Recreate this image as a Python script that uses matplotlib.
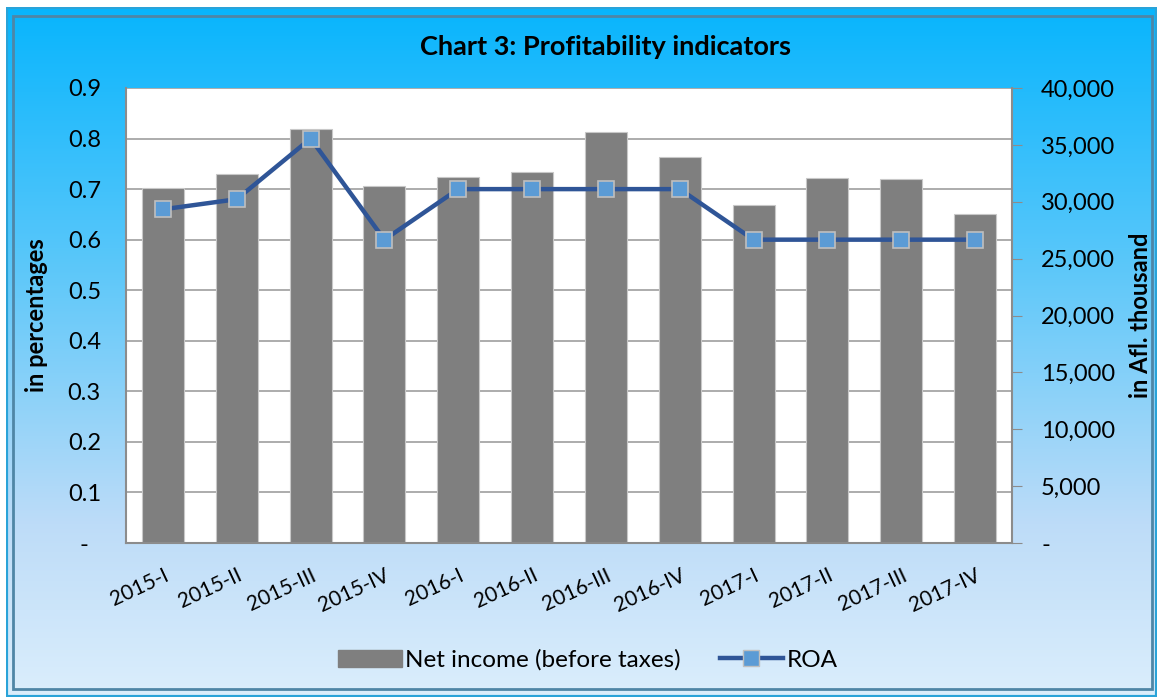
import numpy as np
import matplotlib
matplotlib.use("Agg")
import matplotlib.pyplot as plt
from matplotlib.colors import LinearSegmentedColormap
from matplotlib.patches import Rectangle, Patch
from matplotlib.lines import Line2D
from matplotlib.transforms import blended_transform_factory

quarters = ["2015-I", "2015-II", "2015-III", "2015-IV",
            "2016-I", "2016-II", "2016-III", "2016-IV",
            "2017-I", "2017-II", "2017-III", "2017-IV"]
net_income = [31200, 32400, 36400, 31400, 32200, 32600,
              36100, 33900, 29700, 32100, 32000, 28900]
roa = [0.66, 0.68, 0.80, 0.60, 0.70, 0.70,
       0.70, 0.70, 0.60, 0.60, 0.60, 0.60]
roa_ticks = [0, 0.1, 0.2, 0.3, 0.4, 0.5, 0.6, 0.7, 0.8, 0.9]
income_ticks = [0, 5000, 10000, 15000, 20000, 25000, 30000, 35000, 40000]

plt.rcParams['font.family'] = ['Lato', 'DejaVu Sans']

fig = plt.figure(figsize=(11.6, 7), dpi=100, facecolor='white')

# gradient background with frame
bg = fig.add_axes([6/1160, 3/700, 1151/1160, 690/700])
cmap = LinearSegmentedColormap.from_list(
    'bg', [(0, '#08b5fd'), (0.35, '#55c6fa'), (0.75, '#bddcf8'), (1, '#dbeefc')])
bg.imshow(np.linspace(0, 1, 256).reshape(-1, 1), aspect='auto', cmap=cmap,
          extent=[0, 1, 0, 1], origin='upper')
bg.set_xlim(0, 1)
bg.set_ylim(0, 1)
bg.axis('off')
bg.add_patch(Rectangle((0, 0), 1, 1, transform=bg.transAxes, fill=False,
                       edgecolor='#2aa3d8', lw=3))
bg.add_patch(Rectangle((0.006, 0.012), 0.99, 0.975, transform=bg.transAxes,
                       fill=False, edgecolor='#4f86a6', lw=2))

ax_bar = fig.add_axes([126/1160, 157/700, 886/1160, 455/700])
ax_bar.set_facecolor('white')
ax_line = ax_bar.twinx()

x = np.arange(len(quarters))

# horizontal gridlines follow the left (ROA) scale, behind the bars
grid_tr = blended_transform_factory(ax_bar.transAxes, ax_line.transData)
for v in roa_ticks[1:]:
    ax_bar.plot([0, 1], [v, v], transform=grid_tr, color='#a6a6a6', lw=1.3, zorder=0)

ax_bar.bar(x, net_income, width=0.57, color='#7f7f7f', edgecolor='#c8c8c8',
           lw=0.8, zorder=2)
ax_bar.set_xlim(-0.5, len(quarters) - 0.5)
ax_bar.set_ylim(0, 40000)
ax_bar.set_yticks(income_ticks)
ax_bar.set_yticklabels(['-'] + [f"{t:,}" for t in income_ticks[1:]])
ax_bar.yaxis.tick_right()
ax_bar.yaxis.set_label_position('right')
ax_bar.set_ylabel('in Afl. thousand', fontsize=17, fontweight='bold', labelpad=10)
ax_bar.tick_params(axis='y', direction='out', length=7, color='#8c8c8c',
                   labelsize=17, pad=14)

ax_line.plot(x, roa, color='#2f5597', lw=3.2, marker='s', markersize=12,
             markerfacecolor='#5b9bd5', markeredgecolor='#bfbfbf', markeredgewidth=1.2,
             zorder=3)
ax_line.set_ylim(0, 0.9)
ax_line.set_yticks(roa_ticks)
ax_line.set_yticklabels(['-'] + [f"{t:.1f}" for t in roa_ticks[1:]])
ax_line.yaxis.tick_left()
ax_line.yaxis.set_label_position('left')
ax_line.set_ylabel('in percentages', fontsize=17, fontweight='bold', labelpad=14)
ax_line.tick_params(axis='y', length=0, labelsize=17, pad=30)
for lbl in ax_line.get_yticklabels():
    lbl.set_horizontalalignment('center')

ax_bar.set_xticks(x)
ax_bar.set_xticklabels(quarters, rotation=25, ha='right', rotation_mode='anchor',
                       fontsize=15)
ax_bar.tick_params(axis='x', direction='in', length=4, color='#a6a6a6', pad=16)

for a in (ax_bar, ax_line):
    for s in a.spines.values():
        s.set_visible(False)
for s in ('left', 'right', 'bottom'):
    ax_line.spines[s].set_visible(True)
    ax_line.spines[s].set_color('#8c8c8c')
    ax_line.spines[s].set_linewidth(1.5)

fig.text(605/1160, 1 - 47/700, 'Chart 3: Profitability indicators',
         ha='center', va='center', fontsize=19.5, fontweight='bold')

handles = [Patch(facecolor='#7f7f7f', edgecolor='#7f7f7f'),
           Line2D([], [], color='#2f5597', lw=3.2, marker='s', markersize=12,
                  markerfacecolor='#5b9bd5', markeredgecolor='#bfbfbf')]
fig.legend(handles, ['Net income (before taxes)', 'ROA'], loc='center',
           bbox_to_anchor=(588/1160, 1 - 660/700), ncol=2, frameon=False,
           fontsize=17.5, handlelength=2.6, columnspacing=1.6, handletextpad=0.15)

fig.savefig('out.png', dpi=100, facecolor='white')
